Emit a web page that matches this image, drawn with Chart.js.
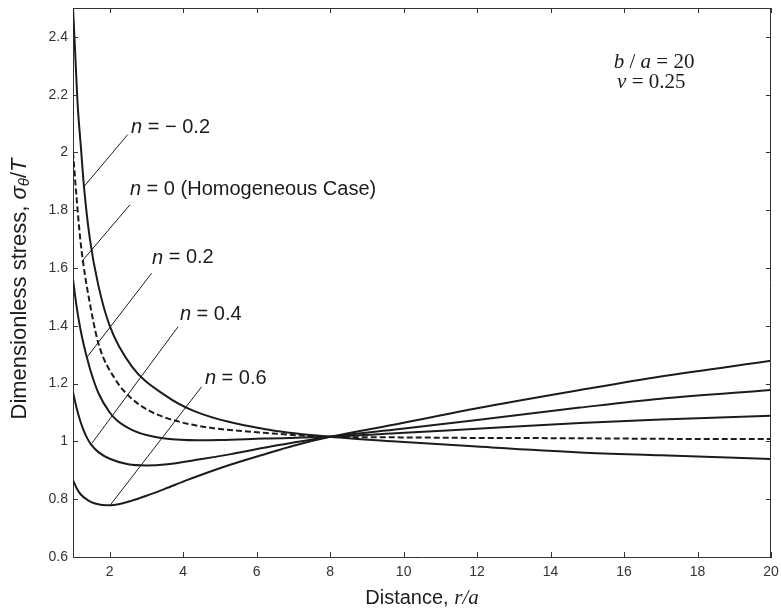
<!DOCTYPE html>
<html>
<head>
<meta charset="utf-8">
<script src="https://cdn.jsdelivr.net/npm/chart.js@4.4.1/dist/chart.umd.min.js"></script>
<style>
    html, body { margin: 0; padding: 0; background: #fff; }
    #wrap { width: 781px; height: 610px; }
</style>
</head>
<body>
<div id="wrap"><canvas id="stressChart" width="781" height="610"></canvas></div>
<script>
// axis ticks
const xTicks = [2, 4, 6, 8, 10, 12, 14, 16, 18, 20];
const yTicks = [0.6, 0.8, 1.0, 1.2, 1.4, 1.6, 1.8, 2.0, 2.2, 2.4];

// n = -0.2
const rNeg02 = [1.0, 1.05, 1.12, 1.22, 1.3, 1.46, 1.69, 2.0, 2.6, 3.5, 4.3, 6.2, 8.0, 9.9, 12, 14.8, 17, 20];
const sNeg02 = [2.50, 2.37, 2.18, 2.01, 1.88, 1.70, 1.54, 1.40, 1.26, 1.16, 1.105, 1.043, 1.016, 0.999, 0.982, 0.962, 0.952, 0.939];

// n = 0 (homogeneous)
const rN0 = [1.0, 1.1, 1.19, 1.28, 1.42, 1.69, 2.15, 2.6, 3.05, 3.5, 4.4, 6.2, 8.0, 9.9, 12, 14.8, 17, 20];
const sN0 = [2.00, 1.84, 1.71, 1.615, 1.505, 1.34, 1.215, 1.148, 1.108, 1.083, 1.054, 1.03, 1.016, 1.014, 1.012, 1.011, 1.009, 1.008];

// n = 0.2
const rN02 = [1.0, 1.1, 1.2, 1.3, 1.4, 1.5, 1.7, 2.0, 2.2, 2.6, 3.0, 3.5, 4.4, 5.0, 6.2, 8.0, 9.9, 12, 14.8, 17, 20];
const sN02 = [1.56, 1.465, 1.39, 1.33, 1.28, 1.235, 1.165, 1.10, 1.072, 1.04, 1.022, 1.01, 1.004, 1.005, 1.01, 1.016, 1.029, 1.044, 1.064, 1.076, 1.089];

// n = 0.4
const rN04 = [1.0, 1.1, 1.2, 1.3, 1.4, 1.5, 1.7, 2.0, 2.5, 3.0, 3.5, 4.46, 5.3, 6.2, 8.0, 9.9, 12, 14.8, 17, 20];
const sN04 = [1.17, 1.115, 1.07, 1.035, 1.008, 0.988, 0.962, 0.94, 0.921, 0.917, 0.92, 0.938, 0.956, 0.978, 1.016, 1.043, 1.074, 1.117, 1.148, 1.178];

// n = 0.6
const rN06 = [1.0, 1.1, 1.2, 1.4, 1.6, 1.9, 2.2, 2.6, 3.0, 3.5, 4.1, 4.46, 5.3, 6.2, 7.0, 8.0, 9.9, 12, 14.8, 17, 20];
const sN06 = [0.866, 0.838, 0.818, 0.797, 0.785, 0.779, 0.782, 0.795, 0.812, 0.836, 0.866, 0.883, 0.92, 0.955, 0.985, 1.016, 1.062, 1.115, 1.178, 1.225, 1.279];

const SANS = '"Liberation Sans", Arial, sans-serif';
const SERIF = '"Liberation Serif", "Times New Roman", serif';
const INK = '#1c1c1c';

// curve callouts, in data units (r/a, stress)
const callouts = [
    { label: ' = \u2212 0.2', text: [2.58, 2.086], line: [[1.30, 1.882], [2.49, 2.062]] },
    { label: ' = 0 (Homogeneous Case)', text: [2.55, 1.871], line: [[1.24, 1.623], [2.55, 1.819]] },
    { label: ' = 0.2', text: [3.15, 1.635], line: [[1.39, 1.293], [3.14, 1.582]] },
    { label: ' = 0.4', text: [3.91, 1.438], line: [[1.51, 0.993], [3.86, 1.397]] },
    { label: ' = 0.6', text: [4.59, 1.219], line: [[2.01, 0.779], [4.50, 1.189]] }
];

function toPoints(rs, vs) {
    return rs.map((r, i) => ({ x: r, y: vs[i] }));
}

function drawParts(ctx, parts, x, y) {
    let cx = x;
    parts.forEach(p => {
        ctx.font = p.font;
        ctx.fillText(p.t, cx, y + (p.dy || 0));
        cx += ctx.measureText(p.t).width;
    });
    return cx - x;
}

function partsWidth(ctx, parts) {
    let w = 0;
    parts.forEach(p => { ctx.font = p.font; w += ctx.measureText(p.t).width; });
    return w;
}

const decorPlugin = {
    id: 'decor',
    afterDraw(chart) {
        const { ctx, chartArea: a, scales: { x, y } } = chart;
        ctx.save();

        // frame and inward ticks
        ctx.strokeStyle = '#333';
        ctx.lineWidth = 1;
        ctx.beginPath();
        ctx.moveTo(a.left, Math.round(a.top) + 0.5);
        ctx.lineTo(a.right, Math.round(a.top) + 0.5);
        ctx.moveTo(Math.round(a.right) - 0.5, a.top);
        ctx.lineTo(Math.round(a.right) - 0.5, a.bottom);
        xTicks.forEach(v => {
            const px = Math.round(x.getPixelForValue(v)) + 0.5;
            ctx.moveTo(px, a.bottom); ctx.lineTo(px, a.bottom - 5);
            ctx.moveTo(px, a.top); ctx.lineTo(px, a.top + 5);
        });
        yTicks.forEach(v => {
            const py = Math.round(y.getPixelForValue(v)) + 0.5;
            ctx.moveTo(a.left, py); ctx.lineTo(a.left + 5, py);
            ctx.moveTo(a.right, py); ctx.lineTo(a.right - 5, py);
        });
        ctx.stroke();

        // callouts
        ctx.fillStyle = INK;
        ctx.strokeStyle = INK;
        ctx.textBaseline = 'middle';
        ctx.textAlign = 'left';
        callouts.forEach(c => {
            ctx.beginPath();
            ctx.moveTo(x.getPixelForValue(c.line[0][0]), y.getPixelForValue(c.line[0][1]));
            ctx.lineTo(x.getPixelForValue(c.line[1][0]), y.getPixelForValue(c.line[1][1]));
            ctx.stroke();
            drawParts(ctx, [
                { t: 'n', font: 'italic 20px ' + SANS },
                { t: c.label, font: '20px ' + SANS }
            ], x.getPixelForValue(c.text[0]), y.getPixelForValue(c.text[1]));
        });

        // parameters text
        drawParts(ctx, [
            { t: 'b', font: 'italic 21px ' + SERIF },
            { t: ' / ', font: '21px ' + SERIF },
            { t: 'a', font: 'italic 21px ' + SERIF },
            { t: ' = 20', font: '21px ' + SERIF }
        ], x.getPixelForValue(15.72), y.getPixelForValue(2.311));
        drawParts(ctx, [
            { t: '\u03BD', font: 'italic 21px ' + SERIF },
            { t: ' = 0.25', font: '21px ' + SERIF }
        ], x.getPixelForValue(15.81), y.getPixelForValue(2.242));

        // x axis title
        const xTitle = [
            { t: 'Distance, ', font: '20px ' + SANS },
            { t: 'r/a', font: 'italic 21px ' + SERIF }
        ];
        const xw = partsWidth(ctx, xTitle);
        drawParts(ctx, xTitle, (a.left + a.right) / 2 - xw / 2, 598);

        // y axis title (rotated)
        const yTitle = [
            { t: 'Dimensionless stress, ', font: '22px ' + SANS },
            { t: '\u03C3', font: 'italic 22px ' + SANS },
            { t: '\u03B8', font: 'italic 15px ' + SANS, dy: 5 },
            { t: '/', font: '22px ' + SANS },
            { t: 'T', font: 'italic 22px ' + SANS }
        ];
        const yw = partsWidth(ctx, yTitle);
        ctx.translate(20, 289);
        ctx.rotate(-Math.PI / 2);
        drawParts(ctx, yTitle, -yw / 2, 0);

        ctx.restore();
    }
};

function lineSet(label, rs, vs, dashed) {
    return {
        label: label,
        data: toPoints(rs, vs),
        borderColor: INK,
        borderWidth: 2,
        borderDash: dashed ? [6, 3] : [],
        pointRadius: 0,
        fill: false,
        cubicInterpolationMode: 'monotone'
    };
}

function renderChart() {
    const canvas = document.getElementById('stressChart');
    if (!canvas) {
        console.error('Error: canvas not found.');
        return;
    }

    new Chart(canvas, {
        type: 'line',
        data: {
            datasets: [
                lineSet('n = -0.2', rNeg02, sNeg02, false),
                lineSet('n = 0', rN0, sN0, true),
                lineSet('n = 0.2', rN02, sN02, false),
                lineSet('n = 0.4', rN04, sN04, false),
                lineSet('n = 0.6', rN06, sN06, false)
            ]
        },
        options: {
            responsive: false,
            animation: false,
            layout: { padding: { top: 8, right: 10, left: 0, bottom: 0 } },
            plugins: {
                legend: { display: false },
                tooltip: { enabled: false }
            },
            scales: {
                x: {
                    type: 'linear',
                    min: 1,
                    max: 20,
                    afterBuildTicks: s => { s.ticks = xTicks.map(v => ({ value: v })); },
                    afterFit: s => {
                        s.height = 53;
                        s.paddingLeft = 0;
                        s.paddingRight = 0;
                    },
                    grid: { display: false, drawTicks: false },
                    border: { color: '#333', width: 1 },
                    ticks: {
                        color: '#333',
                        font: { family: SANS, size: 14 },
                        padding: 7,
                        maxRotation: 0
                    }
                },
                y: {
                    type: 'linear',
                    min: 0.6,
                    max: 2.5,
                    afterBuildTicks: s => { s.ticks = yTicks.map(v => ({ value: v })); },
                    afterFit: s => {
                        s.width = 73;
                        s.paddingTop = 0;
                        s.paddingBottom = 0;
                    },
                    grid: { display: false, drawTicks: false },
                    border: { color: '#333', width: 1 },
                    ticks: {
                        color: '#333',
                        font: { family: SANS, size: 14 },
                        padding: 5,
                        callback: v => String(Math.round(v * 10) / 10)
                    }
                }
            }
        },
        plugins: [decorPlugin]
    });
}

document.addEventListener('DOMContentLoaded', () => {
    renderChart();
});
</script>
</body>
</html>
